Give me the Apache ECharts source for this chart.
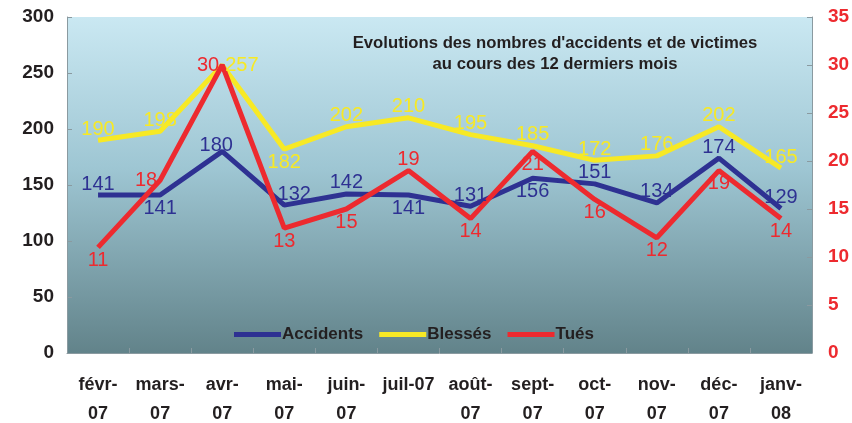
<!DOCTYPE html>
<html>
<head>
<meta charset="utf-8">
<script src="https://cdn.jsdelivr.net/npm/echarts@6/dist/echarts.min.js"></script>
<style>
  html, body { margin: 0; padding: 0; background: #fff; }
  #chart { width: 852px; height: 423px; }
</style>
</head>
<body>
<div id="chart"></div>
<script>
    var months = ['févr-\n07', 'mars-\n07', 'avr-\n07', 'mai-\n07', 'juin-\n07', 'juil-07',
                  'août-\n07', 'sept-\n07', 'oct-\n07', 'nov-\n07', 'déc-\n07', 'janv-\n08'];
    var accidents = [141, 141, 180, 132, 142, 141, 131, 156, 151, 134, 174, 129];
    var blesses   = [190, 198, 257, 182, 202, 210, 195, 185, 172, 176, 202, 165];
    var tues      = [11, 18, 30, 13, 15, 19, 14, 21, 16, 12, 19, 14];

    // where each value label sits, as in the original
    var posAccidents = ['top', 'bottom', 'top', 'top', 'top', 'bottom', 'top', 'bottom', 'top', 'top', 'top', 'top'];
    var posBlesses   = ['top', 'top', 'right', 'bottom', 'top', 'top', 'top', 'top', 'top', 'top', 'top', 'top'];
    var posTues      = ['bottom', 'left', 'left', 'bottom', 'bottom', 'top', 'bottom', 'bottom', 'bottom', 'bottom', 'bottom', 'bottom'];

    var FONT = '"Liberation Sans", Arial, sans-serif';

    function withLabels(values, positions) {
        return values.map(function (v, i) {
            var p = positions[i];
            return {
                value: v,
                label: { position: p, distance: p == 'top' ? 1 : 3 }
            };
        });
    }

    function makeSeries(name, color, values, positions, axisIndex) {
        return {
            name: name,
            type: 'line',
            yAxisIndex: axisIndex,
            data: withLabels(values, positions),
            symbol: 'circle',
            symbolSize: 0,
            showSymbol: true,
            lineStyle: { color: color, width: 5 },
            itemStyle: { color: color },
            label: {
                show: true,
                color: color,
                fontFamily: FONT,
                fontSize: 20
            },
            labelLayout: { hideOverlap: false },
            z: 3
        };
    }

    var accSeries = makeSeries('Accidents', '#2e3192', accidents, posAccidents, 0);
    // a couple of labels sit a little off centre in the original
    accSeries.labelLayout = function (params) {
        if (params.dataIndex === 2) return { dx: -6, dy: 5 };
        if (params.dataIndex === 3) return { dx: 10, dy: 0 };
        return {};
    };

    var chart = echarts.init(document.getElementById('chart'));
    chart.setOption({
        animation: false,
        backgroundColor: '#fff',
        title: {
            text: "Evolutions des nombres d'accidents et de victimes\nau cours des 12 dermiers mois",
            left: 550,
            top: 28,
            textAlign: 'center',
            textStyle: {
                fontFamily: FONT,
                fontSize: 16.7,
                fontWeight: 'bold',
                color: '#231f20',
                lineHeight: 21,
                align: 'center'
            }
        },
        legend: {
            left: 229,
            top: 321,
            itemWidth: 47,
            itemHeight: 5,
            itemGap: 16,
            icon: 'rect',
            textStyle: {
                fontFamily: FONT,
                fontSize: 17,
                fontWeight: 'bold',
                color: '#231f20',
                padding: [0, 0, 0, -4]
            },
            data: ['Accidents', 'Blessés', 'Tués']
        },
        grid: {
            left: 67,
            right: 40,
            top: 17,
            bottom: 70,
            outerBoundsMode: 'none',
            show: true,
            borderWidth: 0,
            backgroundColor: new echarts.graphic.LinearGradient(0, 0, 0, 1, [
                { offset: 0, color: '#cae8f2' },
                { offset: 0.45, color: '#9ec6d3' },
                { offset: 1, color: '#62838a' }
            ])
        },
        xAxis: {
            type: 'category',
            data: months,
            boundaryGap: true,
            axisLine: { lineStyle: { color: '#8a9aa0', width: 1 } },
            axisTick: { show: true, inside: true, length: 5, lineStyle: { color: '#8a9aa0' } },
            axisLabel: {
                interval: 0,
                margin: 18,
                fontFamily: FONT,
                fontSize: 18,
                fontWeight: 'bold',
                color: '#231f20',
                lineHeight: 29
            }
        },
        yAxis: [{
            type: 'value',
            min: 0,
            max: 300,
            interval: 50,
            splitLine: { show: false },
            axisLine: { show: true, lineStyle: { color: '#8a9aa0' } },
            axisTick: { show: true, inside: true, length: 5, lineStyle: { color: '#8a9aa0' } },
            axisLabel: {
                margin: 13,
                fontFamily: FONT,
                fontSize: 19,
                fontWeight: 'bold',
                color: '#231f20'
            }
        }, {
            type: 'value',
            min: 0,
            max: 35,
            interval: 5,
            position: 'right',
            splitLine: { show: false },
            axisLine: { show: true, lineStyle: { color: '#8a9aa0' } },
            axisTick: { show: true, inside: true, length: 5, lineStyle: { color: '#8a9aa0' } },
            axisLabel: {
                margin: 16,
                fontFamily: FONT,
                fontSize: 19,
                fontWeight: 'bold',
                color: '#ed2a2f'
            }
        }],
        series: [
            accSeries,
            makeSeries('Blessés', '#f7e925', blesses, posBlesses, 0),
            makeSeries('Tués', '#ed2a2f', tues, posTues, 1)
        ]
    });
</script>
</body>
</html>
